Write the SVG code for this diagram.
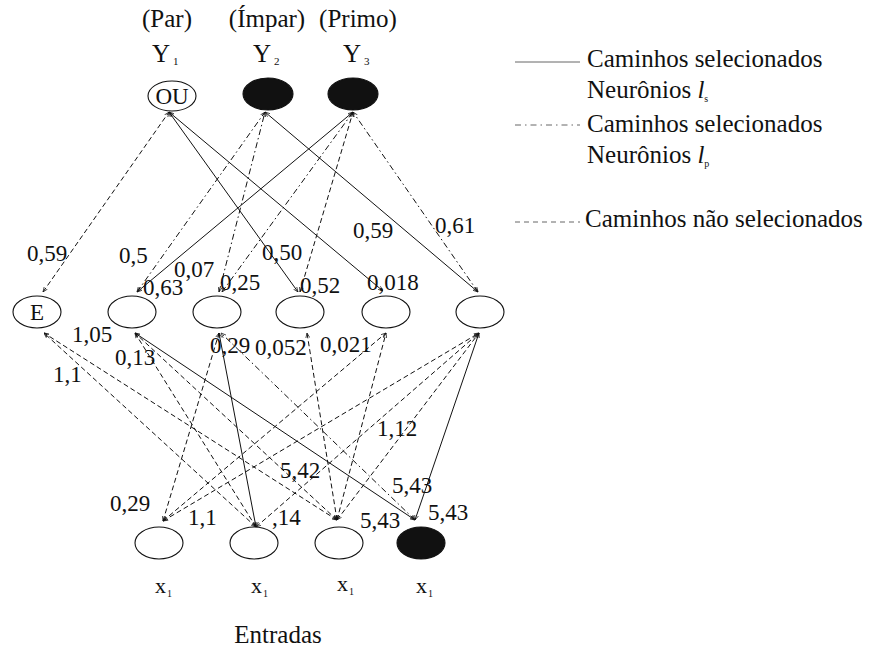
<svg xmlns="http://www.w3.org/2000/svg" width="879" height="651" viewBox="0 0 879 651" font-family="'Liberation Serif', 'Times New Roman', serif">
<style>
text{font-family:"Liberation Serif","Times New Roman",serif;fill:#111}
.h{font-size:25px}
.w{font-size:23px}
.n{fill:#fff;stroke:#111;stroke-width:1.1}
.b{fill:#111;stroke:#111;stroke-width:1.1}
.c{fill:none;stroke:#111;stroke-width:1}
.d{stroke-dasharray:5 3}
.dd{stroke-dasharray:6 3 1.5 3}
.lg{fill:none;stroke:#666;stroke-width:1}
</style>
<defs>
<marker id="ah" viewBox="0 0 10 10" refX="10" refY="5" markerWidth="5" markerHeight="5" markerUnits="userSpaceOnUse" orient="auto-start-reverse">
<path d="M0,1 L10,5 L0,9" style="fill:none;stroke:#111;stroke-width:1.4;stroke-dasharray:none"/>
</marker>
</defs>
<rect width="879" height="651" fill="#fff"/>

<g id="connectors">
<line class="c d" x1="43" y1="292" x2="169" y2="112" marker-start="url(#ah)" marker-end="url(#ah)"/>
<line class="c" x1="298" y1="292" x2="169" y2="112" marker-start="url(#ah)" marker-end="url(#ah)"/>
<line class="c" x1="383" y1="291" x2="169" y2="112" marker-start="url(#ah)" marker-end="url(#ah)"/>
<line class="c dd" x1="137" y1="292" x2="265" y2="112" marker-start="url(#ah)" marker-end="url(#ah)"/>
<line class="c dd" x1="219" y1="292" x2="265" y2="112" marker-start="url(#ah)" marker-end="url(#ah)"/>
<line class="c" x1="478" y1="292" x2="265" y2="112" marker-start="url(#ah)" marker-end="url(#ah)"/>
<line class="c" x1="137" y1="292" x2="353" y2="112" marker-start="url(#ah)" marker-end="url(#ah)"/>
<line class="c dd" x1="222" y1="292" x2="353" y2="112" marker-start="url(#ah)" marker-end="url(#ah)"/>
<line class="c d" x1="300" y1="292" x2="353" y2="112" marker-start="url(#ah)" marker-end="url(#ah)"/>
<line class="c dd" x1="478" y1="292" x2="353" y2="112" marker-start="url(#ah)" marker-end="url(#ah)"/>
<line class="c d" x1="256" y1="527" x2="44" y2="333" marker-start="url(#ah)" marker-end="url(#ah)"/>
<line class="c d" x1="337" y1="520" x2="44" y2="333" marker-start="url(#ah)" marker-end="url(#ah)"/>
<line class="c d" x1="256" y1="527" x2="135" y2="333" marker-start="url(#ah)" marker-end="url(#ah)"/>
<line class="c d" x1="337" y1="520" x2="135" y2="333" marker-start="url(#ah)" marker-end="url(#ah)"/>
<line class="c" x1="415" y1="520" x2="135" y2="333" marker-start="url(#ah)" marker-end="url(#ah)"/>
<line class="c d" x1="163" y1="521" x2="219" y2="333" marker-start="url(#ah)" marker-end="url(#ah)"/>
<line class="c" x1="256" y1="527" x2="219" y2="333" marker-start="url(#ah)" marker-end="url(#ah)"/>
<line class="c dd" x1="415" y1="520" x2="221" y2="333" marker-start="url(#ah)" marker-end="url(#ah)"/>
<line class="c d" x1="337" y1="520" x2="307" y2="333" marker-start="url(#ah)" marker-end="url(#ah)"/>
<line class="c d" x1="337" y1="520" x2="386" y2="333" marker-start="url(#ah)" marker-end="url(#ah)"/>
<line class="c d" x1="163" y1="521" x2="386" y2="333" marker-start="url(#ah)" marker-end="url(#ah)"/>
<line class="c d" x1="163" y1="521" x2="479" y2="333" marker-start="url(#ah)" marker-end="url(#ah)"/>
<line class="c d" x1="256" y1="527" x2="479" y2="333" marker-start="url(#ah)" marker-end="url(#ah)"/>
<line class="c d" x1="337" y1="520" x2="479" y2="333" marker-start="url(#ah)" marker-end="url(#ah)"/>
<line class="c" x1="415" y1="520" x2="479" y2="333" marker-start="url(#ah)" marker-end="url(#ah)"/>
</g>

<g id="weights" class="w" font-family="'Liberation Serif', serif">
<text x="27" y="261">0,59</text>
<text x="119" y="263">0,5</text>
<text x="174" y="277">0,07</text>
<text x="143" y="295">0,63</text>
<text x="220" y="290">0,25</text>
<text x="262" y="260">0,50</text>
<text x="300" y="293">0,52</text>
<text x="367" y="290">0,018</text>
<text x="353" y="238">0,59</text>
<text x="435" y="233">0,61</text>
<text x="72" y="342">1,05</text>
<text x="115" y="365">0,13</text>
<text x="53" y="382">1,1</text>
<text x="210" y="353">0,29</text>
<text x="255" y="355">0,052</text>
<text x="320" y="352">0,021</text>
<text x="377" y="436">1,12</text>
<text x="280" y="478">5,42</text>
<text x="392" y="493">5,43</text>
<text x="110" y="511">0,29</text>
<text x="188" y="525">1,1</text>
<text x="272" y="525">,14</text>
<text x="360" y="528">5,43</text>
<text x="428" y="520">5,43</text>
</g>

<g id="header" class="h" text-anchor="middle">
<text x="167" y="27">(Par)</text>
<text x="267" y="27">(Ímpar)</text>
<text x="358" y="27">(Primo)</text>
</g>
<g id="ylabels" class="h">
<text x="152" y="62">Y<tspan font-size="11" dx="3" dy="3">1</tspan></text>
<text x="253" y="62">Y<tspan font-size="11" dx="3" dy="3">2</tspan></text>
<text x="343" y="62">Y<tspan font-size="11" dx="3" dy="3">3</tspan></text>
</g>

<g id="node-y1"><ellipse class="n" cx="172" cy="96" rx="24" ry="15"/><text x="172" y="104" text-anchor="middle" font-size="23">OU</text></g>
<g id="node-y2"><ellipse class="b" cx="268" cy="94" rx="25" ry="16"/></g>
<g id="node-y3"><ellipse class="b" cx="353" cy="94" rx="25" ry="16"/></g>

<g id="node-e"><ellipse class="n" cx="37" cy="312" rx="24" ry="16"/><text x="37" y="320" text-anchor="middle" font-size="23">E</text></g>
<g id="node-h1"><ellipse class="n" cx="132" cy="312" rx="24" ry="16"/></g>
<g id="node-h2"><ellipse class="n" cx="217" cy="312" rx="24" ry="16"/></g>
<g id="node-h3"><ellipse class="n" cx="300" cy="312" rx="24" ry="16"/></g>
<g id="node-h4"><ellipse class="n" cx="386" cy="312" rx="24" ry="16"/></g>
<g id="node-h5"><ellipse class="n" cx="480" cy="312" rx="24" ry="16"/></g>

<g id="node-x1"><ellipse class="n" cx="159" cy="543" rx="24" ry="16"/></g>
<g id="node-x2"><ellipse class="n" cx="254" cy="543" rx="24" ry="16"/></g>
<g id="node-x3"><ellipse class="n" cx="339" cy="543" rx="24" ry="16"/></g>
<g id="node-x4"><ellipse class="b" cx="421" cy="543" rx="24" ry="16"/></g>

<g id="xlabels" font-size="22">
<text x="155" y="593">x<tspan font-size="10" dx="1" dy="4">1</tspan></text>
<text x="251" y="593">x<tspan font-size="10" dx="1" dy="4">1</tspan></text>
<text x="337" y="591">x<tspan font-size="10" dx="1" dy="4">1</tspan></text>
<text x="416" y="593">x<tspan font-size="10" dx="1" dy="4">1</tspan></text>
</g>
<text class="h" x="278" y="643" text-anchor="middle">Entradas</text>

<g id="legend" class="h">
<line class="lg" x1="515" y1="62" x2="580" y2="62"/>
<text x="587" y="67">Caminhos selecionados</text>
<text x="587" y="98">Neurônios <tspan font-style="italic">l</tspan><tspan font-size="10" dy="4">s</tspan></text>
<line class="lg" x1="515" y1="125" x2="580" y2="125" stroke-dasharray="6 4 1.5 4"/>
<text x="587" y="132">Caminhos selecionados</text>
<text x="587" y="163">Neurônios <tspan font-style="italic">l</tspan><tspan font-size="10" dy="4">p</tspan></text>
<line class="lg" x1="515" y1="222" x2="580" y2="222" stroke-dasharray="5 4"/>
<text x="585" y="227">Caminhos não selecionados</text>
</g>
</svg>
